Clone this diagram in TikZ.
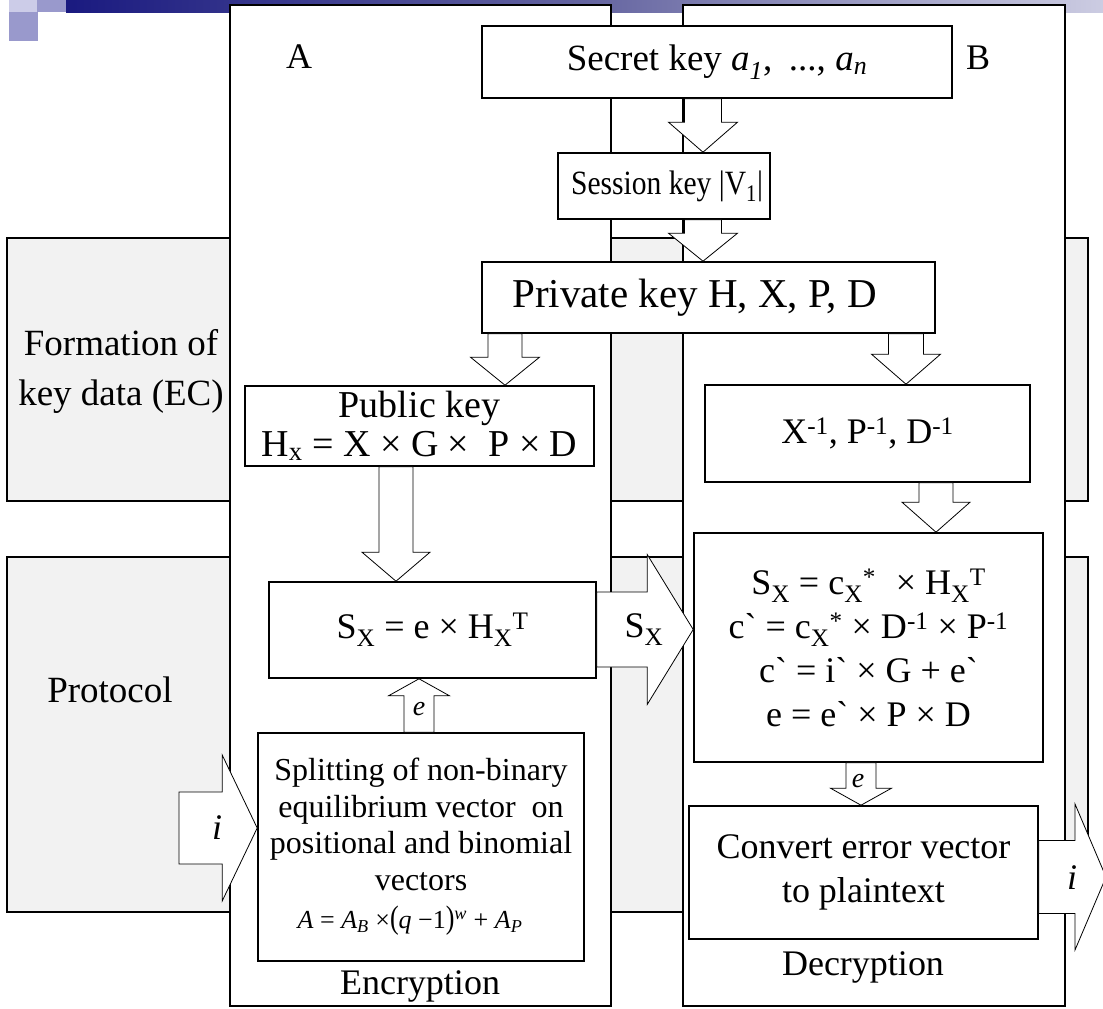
\documentclass[tikz,border=0pt]{standalone}
\usepackage{fontspec}
\newfontfamily\tnr{Liberation Serif}
\usetikzlibrary{calc}

\definecolor{bandgray}{HTML}{F2F2F2}
\definecolor{navy}{RGB}{26,26,128}
\definecolor{midblue}{RGB}{100,100,160}
\definecolor{lightlav}{RGB}{204,204,226}
\definecolor{sqlight}{RGB}{204,204,232}
\definecolor{sqmid}{RGB}{153,153,204}

\newcommand\subx[1]{\textsubscript{#1}}
\newcommand\supx[1]{\textsuperscript{#1}}
\newcommand\tall[1]{\scalebox{1}[1.25]{#1}}

% hollow block arrow pointing down: from, to, centre x, shaft half width, head half width, head length
\newcommand\vdown[6]{%
  \draw[blockarrow] let \p1=(#1.south), \p2=(#2.north) in
    ({(#3-#4)*1pt},\y1) -- ({(#3-#4)*1pt},{\y2+#6pt}) -- ({(#3-#5)*1pt},{\y2+#6pt})
    -- ({#3*1pt},\y2) -- ({(#3+#5)*1pt},{\y2+#6pt}) -- ({(#3+#4)*1pt},{\y2+#6pt})
    -- ({(#3+#4)*1pt},\y1) -- cycle;}
% hollow block arrow pointing up
\newcommand\vup[6]{%
  \draw[blockarrow] let \p1=(#1.north), \p2=(#2.south) in
    ({(#3-#4)*1pt},\y1) -- ({(#3-#4)*1pt},{\y2-#6pt}) -- ({(#3-#5)*1pt},{\y2-#6pt})
    -- ({#3*1pt},\y2) -- ({(#3+#5)*1pt},{\y2-#6pt}) -- ({(#3+#4)*1pt},{\y2-#6pt})
    -- ({(#3+#4)*1pt},\y1) -- cycle;}
% hollow block arrow pointing right: start, tip, centre y, shaft half, head half, head length
\newcommand\hright[6]{%
  \draw[blockarrow] let \p1=(#1), \p2=(#2) in
    (\x1,{-(#3-#4)*1pt}) -- ({\x2-#6pt},{-(#3-#4)*1pt}) -- ({\x2-#6pt},{-(#3-#5)*1pt})
    -- (\x2,{-#3*1pt}) -- ({\x2-#6pt},{-(#3+#5)*1pt}) -- ({\x2-#6pt},{-(#3+#4)*1pt})
    -- (\x1,{-(#3+#4)*1pt}) -- cycle;}

\begin{document}
\begin{tikzpicture}[x=1pt,y=-1pt,
  box/.style={draw=black,line width=1.6pt,fill=white,inner sep=0pt,align=center},
  band/.style={draw=black,line width=1.6pt,fill=bandgray},
  lane/.style={draw=black,line width=1.6pt,fill=white},
  blockarrow/.style={draw=black,line width=0.8pt,fill=white,line join=miter},
  big/.style={font=\tnr\fontsize{36}{44}\selectfont},
  small/.style={font=\tnr\fontsize{28}{32}\selectfont}]

\useasboundingbox (0,0) rectangle (1103,1009);

% title banner
\shade[left color=navy,right color=lightlav,middle color=midblue] (66,0) rectangle (1103,12);
\fill[sqlight] (9,0) rectangle (37,12);
\fill[sqmid] (37,0) rectangle (66,12);
\fill[sqmid] (9,12) rectangle (38,41);

% horizontal stages
\draw[band] (7,238) rectangle (1088,501);
\draw[band] (7,557) rectangle (1088,912);

% party lanes
\draw[lane] (230,5) rectangle (611,1006);
\draw[lane] (683,5) rectangle (1065,1006);

% lane and stage labels
\node[big] (labA) at (299,57) {A};
\node[big] (labB) at (978,58) {B};
\node[big] (enc) at (420,986) {Encryption};
\node[big] (dec) at (863,967) {Decryption};
\node[font=\tnr\fontsize{37}{50}\selectfont,align=center] (formation) at (121,371) {Formation of\\key data (EC)};
\node[font=\tnr\fontsize{37}{44}\selectfont] (protocol) at (110,690) {Protocol};

% key generation
\node[box,font=\tnr\fontsize{37}{44}\selectfont,minimum width=470pt,minimum height=72pt] (secret) at (717,62)
  {Secret key \textit{a}\subx{\textit{1}},\hspace{0.45em}..., \textit{a}\subx{\textit{n}}};
\node[box,font=\tnr\fontsize{34}{40}\selectfont,minimum width=212pt,minimum height=66pt] (session) at (664,186)
  {\hspace*{6pt}\scalebox{0.87}[1]{Session key |V\subx{1}|}};
\node[box,font=\tnr\fontsize{41}{48}\selectfont,minimum width=453pt,minimum height=71pt] (private) at (708.5,297.5)
  {Private key H, X, P, D\hspace*{28pt}};
\node[box,font=\tnr\fontsize{38}{39}\selectfont,minimum width=349pt,minimum height=80pt] (public) at (419.5,426)
  {Public key\\H\subx{x} = X × G ×\hspace{0.5em}P × D};
\node[box,big,minimum width=325pt,minimum height=97pt] (inverse) at (867.5,433.5)
  {X\supx{-1}, P\supx{-1}, D\supx{-1}};

% protocol
\node[box,big,minimum width=327pt,minimum height=96pt] (syndrome) at (432.5,630)
  {S\subx{X} = e × H\subx{X}\supx{T}};
\node[box,big,minimum width=349pt,minimum height=229pt] (decode) at (868.5,647.5)
  {S\subx{X} = c\subx{X}\supx{*}\hspace{0.3em} × H\subx{X}\supx{T}\\
   c` = c\subx{X}\supx{*} × D\supx{-1} × P\supx{-1}\\
   c` = i` × G + e`\\
   e = e` × P × D};
\node[box,font=\tnr\fontsize{32}{36.5}\selectfont,minimum width=326pt,minimum height=228pt] (split) at (421,847)
  {Splitting of non-binary\\equilibrium vector\ \ on\\positional and binomial\\vectors\\[2pt]
   {\fontsize{26}{30}\selectfont\textit{A} = \textit{A}\subx{\textit{B}} ×\tall{(}\textit{q} −1\tall{)}\supx{\textit{w}} + \textit{A}\subx{\textit{P}}\hspace*{22pt}}};
\node[box,big,minimum width=349pt,minimum height=133pt] (convert) at (863.5,872.5)
  {Convert error vector\\to plaintext};

% connectors
\vdown{secret}{session}{703}{18.5}{34.5}{30}
\vdown{session}{private}{703}{18.5}{34.5}{28}
\vdown{private}{public}{505}{17}{34.5}{28}
\vdown{private}{inverse}{906}{17.5}{34.5}{30}
\vdown{inverse}{decode}{936}{17}{34}{30}
\vdown{public}{syndrome}{396}{17}{34}{29}
\vup{split}{syndrome}{419}{15}{30.5}{17}
\vdown{decode}{convert}{861}{15}{30.5}{17}
\hright{syndrome.east}{decode.west}{629.5}{37.5}{75}{46}
\coordinate (plainin) at (179,828);
\hright{plainin}{split.west}{828}{36}{73}{35}
\coordinate (plainout) at (1106,877);
\hright{convert.east}{plainout}{877}{36.5}{73}{31}

% connector labels
\node[small] (eup) at (419,709) {\textit{e}};
\node[small] (edown) at (858,781) {\textit{e}};
\node[big] (sxlab) at (644,630) {S\subx{X}};
\node[big] (iin) at (217,828) {\textit{i}};
\node[big] (iout) at (1072,878) {\textit{i}};
\end{tikzpicture}
\end{document}
